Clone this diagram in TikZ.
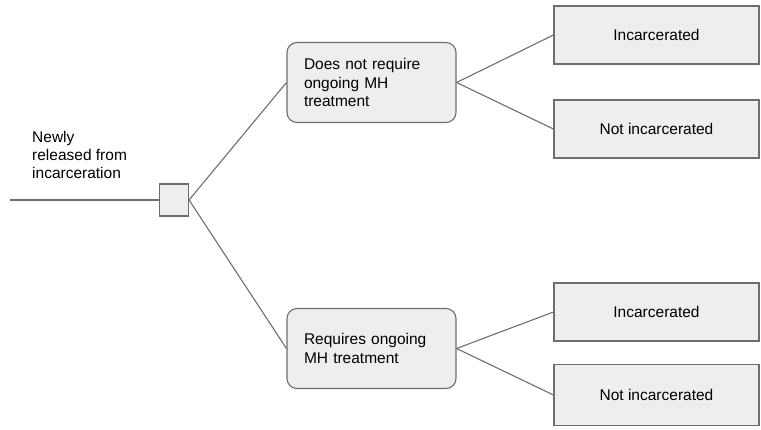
\documentclass[tikz,border=0pt]{standalone}
\usepackage{fontspec}
\setmainfont{Liberation Sans}
\definecolor{strokegray}{HTML}{6E6E6E}
\definecolor{boxfill}{HTML}{EEEEEE}
\begin{document}
\begin{tikzpicture}[x=1pt,y=-1pt,
  base/.style={draw=strokegray, line width=1.1pt, fill=boxfill, inner sep=0pt},
  decbox/.style={base, minimum width=29pt, minimum height=32pt},
  choicebox/.style={base, rounded corners=10pt, minimum width=169pt, minimum height=80pt,
     text width=135pt, inner xsep=17pt, align=left, font=\fontsize{15.5}{18.5}\selectfont},
  outbox/.style={base, minimum width=205pt, minimum height=58pt, font=\fontsize{15.5}{18.5}\selectfont},
  conn/.style={draw=strokegray, line width=1.1pt},
  plain/.style={inner sep=0pt, align=left, font=\fontsize{15.5}{18}\selectfont}]
\useasboundingbox (0,0) rectangle (761,429);
\coordinate (start) at (10,200);
\node[decbox] (dec) at (174,200) {};
\node[plain, anchor=west] (lbl) at (32,155) {Newly\\released from\\incarceration};
\node[choicebox] (nr) at (371.5,82.5) {Does not require\\ongoing MH\\treatment};
\node[choicebox] (rq) at (371.5,348.5) {Requires ongoing\\MH treatment};
\node[outbox] (o1) at (656.5,35) {Incarcerated};
\node[outbox] (o2) at (656.5,129) {Not incarcerated};
\node[outbox] (o3) at (656.5,312) {Incarcerated};
\node[outbox, minimum height=61pt] (o4) at (656.5,395) {Not incarcerated};
\draw[conn] (start) -- (dec.west);
\draw[conn] (dec.east) -- (nr.west);
\draw[conn] (dec.east) -- (rq.west);
\draw[conn] (nr.east) -- (o1.west);
\draw[conn] (nr.east) -- (o2.west);
\draw[conn] (rq.east) -- (o3.west);
\draw[conn] (rq.east) -- (o4.west);
\end{tikzpicture}
\end{document}
